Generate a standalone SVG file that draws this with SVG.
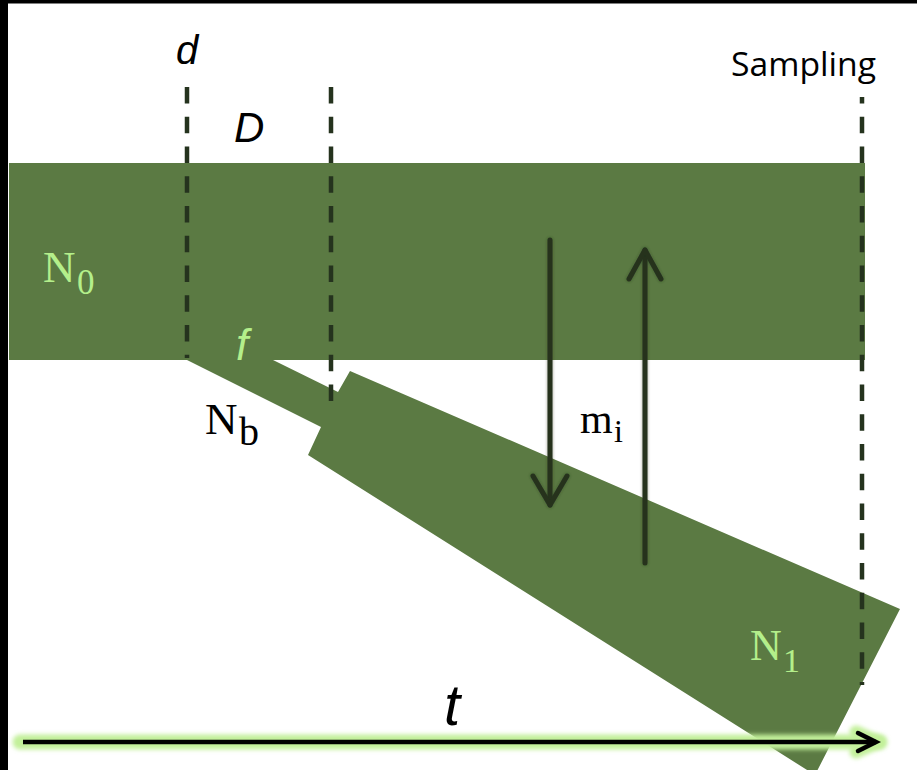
<svg xmlns="http://www.w3.org/2000/svg" width="917" height="770" viewBox="0 0 917 770">
<defs>
<style>
.pop{fill:#5b7a43}
.dash{stroke:#25331e;stroke-width:4.5;stroke-dasharray:16.5 13.25;fill:none}
.arr{stroke:#25331e;stroke-width:5;fill:none;stroke-linecap:round;stroke-linejoin:round}
.sans{font-family:"Liberation Sans",Arial,sans-serif;font-style:italic}
.serif{font-family:"Liberation Serif","Times New Roman",serif}
.lg{fill:#b4ef8b}
.bk{fill:#000}
</style>
<filter id="glow" filterUnits="userSpaceOnUse" x="0" y="715" width="917" height="55">
<feGaussianBlur stdDeviation="2"/>
</filter>
<filter id="soft" filterUnits="userSpaceOnUse" x="500" y="220" width="200" height="370">
<feGaussianBlur in="SourceAlpha" stdDeviation="1.5" result="b"/>
<feFlood flood-color="#25331e" flood-opacity="0.5"/>
<feComposite in2="b" operator="in" result="s"/>
<feMerge><feMergeNode in="s"/><feMergeNode in="SourceGraphic"/></feMerge>
</filter>
</defs>
<rect x="0" y="0" width="917" height="770" fill="#fff"/>
<rect x="0" y="0" width="8" height="770" fill="#000"/>
<rect x="0" y="0" width="917" height="3.5" fill="#000"/>

<g id="ancestral">
<rect class="pop" x="9" y="163" width="856" height="197"/>
</g>
<g id="branch">
<polygon class="pop" points="184,356 273,356 273,360 338,392 350,371 900,609 815,775 308,455 321,427 187,360"/>
</g>

<g id="connectors">
<line class="dash" x1="187" y1="87" x2="187" y2="358"/>
<line class="dash" x1="331" y1="87" x2="331" y2="402"/>
<line class="dash" x1="862" y1="97" x2="862" y2="685" stroke-dashoffset="10"/>
<g filter="url(#soft)">
<line class="arr" x1="550" y1="240" x2="550" y2="505"/>
<polyline class="arr" points="533,476 550,505 567,476"/>
<line class="arr" x1="645" y1="563" x2="645" y2="250"/>
<polyline class="arr" points="629,279 645,250 661,279"/>
</g>
<g id="time-axis">
<line x1="20" y1="742" x2="880" y2="742" stroke="#c2f09a" stroke-width="15" stroke-linecap="round" filter="url(#glow)"/>
<polyline points="856,732 878,742 856,752" fill="none" stroke="#c2f09a" stroke-width="13" stroke-linejoin="round" stroke-linecap="round" filter="url(#glow)"/>
<line x1="23" y1="742" x2="876" y2="742" stroke="#000" stroke-width="4.5"/>
<polyline points="858,733 876,742 858,751" fill="none" stroke="#000" stroke-width="4.5" stroke-linejoin="miter" stroke-linecap="round"/>
</g>
</g>

<g id="labels">
<text class="sans bk" x="176" y="64" font-size="40">d</text>
<text class="sans bk" x="234" y="142" font-size="42">D</text>
<text x="731" y="76" font-family="'Open Sans','Liberation Sans',sans-serif" font-size="33" textLength="145" lengthAdjust="spacingAndGlyphs" fill="#000">Sampling</text>
<text class="sans lg" x="236" y="360" font-size="44">f</text>
<text class="sans bk" x="444" y="725" font-size="58">t</text>
<g id="N0">
<text class="serif lg" x="43" y="282" font-size="45">N</text>
<text class="serif lg" x="77" y="294" font-size="35">0</text>
</g>
<g id="Nb">
<text class="serif bk" x="205" y="434" font-size="45">N</text>
<text class="serif bk" x="239" y="445" font-size="40">b</text>
</g>
<g id="mi">
<text class="serif bk" x="580" y="433" font-size="42">m</text>
<text class="serif bk" x="614" y="442" font-size="32">i</text>
</g>
<g id="N1">
<text class="serif lg" x="750" y="660" font-size="44">N</text>
<text class="serif lg" x="783" y="672" font-size="34">1</text>
</g>
</g>
</svg>
